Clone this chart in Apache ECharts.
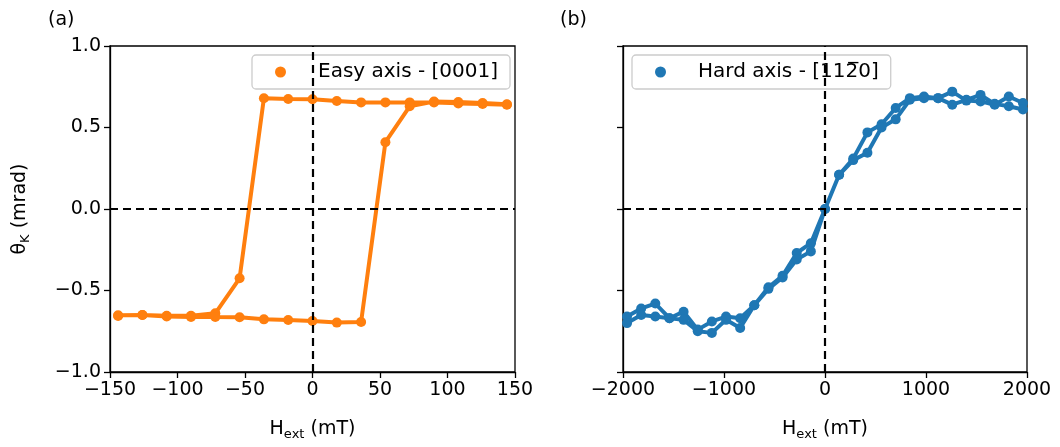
<!DOCTYPE html>
<html>
<head>
<meta charset="utf-8">
<script src="https://cdn.jsdelivr.net/npm/echarts@6/dist/echarts.min.js"></script>
<style>
  html, body { margin: 0; padding: 0; background: #fff; }
  #chart { width: 1060px; height: 447px; }
</style>
</head>
<body>
<div id="chart"></div>
<script>
// Field steps (mT) for the easy-axis loop, ascending
const easyField = [-144, -126, -108, -90, -72, -54, -36, -18, 0, 18, 36, 54, 72, 90, 108, 126, 144];
// Kerr rotation (mrad) per field step, for the sweep from +H to -H
const easySweepDown = [-0.652, -0.650, -0.655, -0.655, -0.640, -0.425, 0.679, 0.675, 0.673, 0.663, 0.654, 0.654, 0.654, 0.654, 0.648, 0.644, 0.640];
// Kerr rotation (mrad) per field step, for the sweep from -H to +H
const easySweepUp = [-0.656, -0.650, -0.660, -0.662, -0.662, -0.664, -0.677, -0.681, -0.687, -0.697, -0.693, 0.410, 0.630, 0.660, 0.656, 0.650, 0.642];

// Field steps (mT) for the hard-axis loop, ascending
const hardField = [-1960, -1820, -1680, -1540, -1400, -1260, -1120, -980, -840, -700, -560, -420, -280, -140, 0,
                   140, 280, 420, 560, 700, 840, 980, 1120, 1260, 1400, 1540, 1680, 1820, 1960];
const hardSweepDown = [-0.66, -0.61, -0.58, -0.67, -0.63, -0.74, -0.69, -0.66, -0.67, -0.59, -0.48, -0.41, -0.27, -0.21, 0.00,
                       0.21, 0.31, 0.47, 0.52, 0.62, 0.68, 0.69, 0.68, 0.72, 0.665, 0.66, 0.64, 0.69, 0.65];
const hardSweepUp = [-0.70, -0.65, -0.66, -0.67, -0.68, -0.75, -0.76, -0.68, -0.73, -0.59, -0.49, -0.42, -0.31, -0.26, 0.00,
                     0.21, 0.30, 0.345, 0.50, 0.55, 0.67, 0.68, 0.68, 0.64, 0.67, 0.70, 0.645, 0.63, 0.61];

// Tick positions
const easyXTicks = [-150, -100, -50, 0, 50, 100, 150];
const hardXTicks = [-2000, -1000, 0, 1000, 2000];
const kerrTicks = [-1.0, -0.5, 0.0, 0.5, 1.0];

const easyName = 'Easy axis - [0001]';
// Miller index with an overbarred 2 (combining overline)
const hardName = 'Hard axis - [11\u0032\u03050]';

// A full loop: down-sweep (high field first) followed by up-sweep
function loop(field, down, up) {
  const pts = [];
  for (let i = field.length - 1; i >= 0; i--) pts.push([field[i], down[i]]);
  for (let i = 0; i < field.length; i++) pts.push([field[i], up[i]]);
  return pts;
}

const FONT = 'DejaVu Sans';
const FS = 19;
const minus = s => String(s).replace('-', '\u2212');

function xAxisFor(ticks, gridIndex) {
  return {
    type: 'value', gridIndex: gridIndex,
    min: ticks[0], max: ticks[ticks.length - 1], interval: ticks[1] - ticks[0],
    name: '{h|H}{s|ext}{h| (mT)}',
    nameLocation: 'middle', nameGap: 46,
    nameTextStyle: {
      rich: {
        h: { fontFamily: FONT, fontSize: FS, color: '#000' },
        s: { fontFamily: FONT, fontSize: 13, color: '#000', verticalAlign: 'bottom', padding: [10, 0, 0, 0] }
      }
    },
    axisLine: { onZero: false, lineStyle: { color: '#000', width: 1.3 } },
    axisTick: { show: true, inside: false, length: 6, lineStyle: { color: '#000', width: 1.3 } },
    axisLabel: { color: '#000', fontFamily: FONT, fontSize: FS, margin: 9, formatter: v => minus(v) },
    splitLine: { show: false }
  };
}

function yAxisFor(gridIndex, withLabels) {
  const ax = {
    type: 'value', gridIndex: gridIndex,
    min: kerrTicks[0], max: kerrTicks[kerrTicks.length - 1], interval: 0.5,
    axisLine: { onZero: false, lineStyle: { color: '#000', width: 1.3 } },
    axisTick: { show: true, inside: false, length: 6, lineStyle: { color: '#000', width: 1.3 } },
    axisLabel: { show: withLabels, color: '#000', fontFamily: FONT, fontSize: FS, margin: 9,
                 formatter: v => minus(v.toFixed(1)) },
    splitLine: { show: false }
  };
  if (withLabels) {
    ax.name = '{h|\u03b8}{s|K}{h| (mrad)}';
    ax.nameLocation = 'middle';
    ax.nameGap = 78;
    ax.nameTextStyle = {
      rich: {
        h: { fontFamily: FONT, fontSize: FS, color: '#000' },
        s: { fontFamily: FONT, fontSize: 13, color: '#000', verticalAlign: 'bottom', padding: [10, 0, 0, 0] }
      }
    };
  }
  return ax;
}

const zeroLines = {
  silent: true, symbol: 'none', animation: false,
  label: { show: false },
  lineStyle: { color: '#000', width: 2.2, type: [8, 5] },
  data: [{ xAxis: 0 }, { yAxis: 0 }],
  z: 10
};

function legendFor(name, left) {
  return {
    data: [name], left: left, top: 55, orient: 'horizontal',
    backgroundColor: 'rgba(255,255,255,0.8)', borderColor: '#cccccc', borderWidth: 1.3, borderRadius: 4,
    padding: [7, 12, 7, 23],
    icon: 'circle', itemWidth: 11, itemHeight: 11,
    textStyle: { fontFamily: FONT, fontSize: 20, color: '#000', padding: [0, 0, 0, 27] },
    selectedMode: false
  };
}

const chart = echarts.init(document.getElementById('chart'), null, { renderer: 'canvas' });
chart.setOption({
  animation: false,
  backgroundColor: '#fff',
  title: [
    { text: '(a)', left: 43, top: 6, textStyle: { fontFamily: FONT, fontSize: FS, fontWeight: 'normal', color: '#000' } },
    { text: '(b)', left: 555, top: 6, textStyle: { fontFamily: FONT, fontSize: FS, fontWeight: 'normal', color: '#000' } }
  ],
  grid: [
    { left: 110, right: 545, top: 46, bottom: 75, show: true, borderColor: '#000', borderWidth: 1.3, containLabel: false },
    { left: 623, right: 33, top: 46, bottom: 75, show: true, borderColor: '#000', borderWidth: 1.3, containLabel: false }
  ],
  legend: [legendFor(easyName, 252), legendFor(hardName, 632)],
  xAxis: [xAxisFor(easyXTicks, 0), xAxisFor(hardXTicks, 1)],
  yAxis: [yAxisFor(0, true), yAxisFor(1, false)],
  series: [
    {
      name: easyName, type: 'line', xAxisIndex: 0, yAxisIndex: 0,
      data: loop(easyField, easySweepDown, easySweepUp),
      color: '#ff7f0e',
      lineStyle: { width: 4, color: '#ff7f0e' },
      symbol: 'circle', symbolSize: 10, showAllSymbol: true,
      itemStyle: { color: '#ff7f0e' },
      markLine: zeroLines
    },
    {
      name: hardName, type: 'line', xAxisIndex: 1, yAxisIndex: 1,
      data: loop(hardField, hardSweepDown, hardSweepUp),
      color: '#1f77b4',
      lineStyle: { width: 4, color: '#1f77b4' },
      symbol: 'circle', symbolSize: 10, showAllSymbol: true,
      itemStyle: { color: '#1f77b4' },
      markLine: zeroLines
    }
  ]
});
</script>
</body>
</html>
